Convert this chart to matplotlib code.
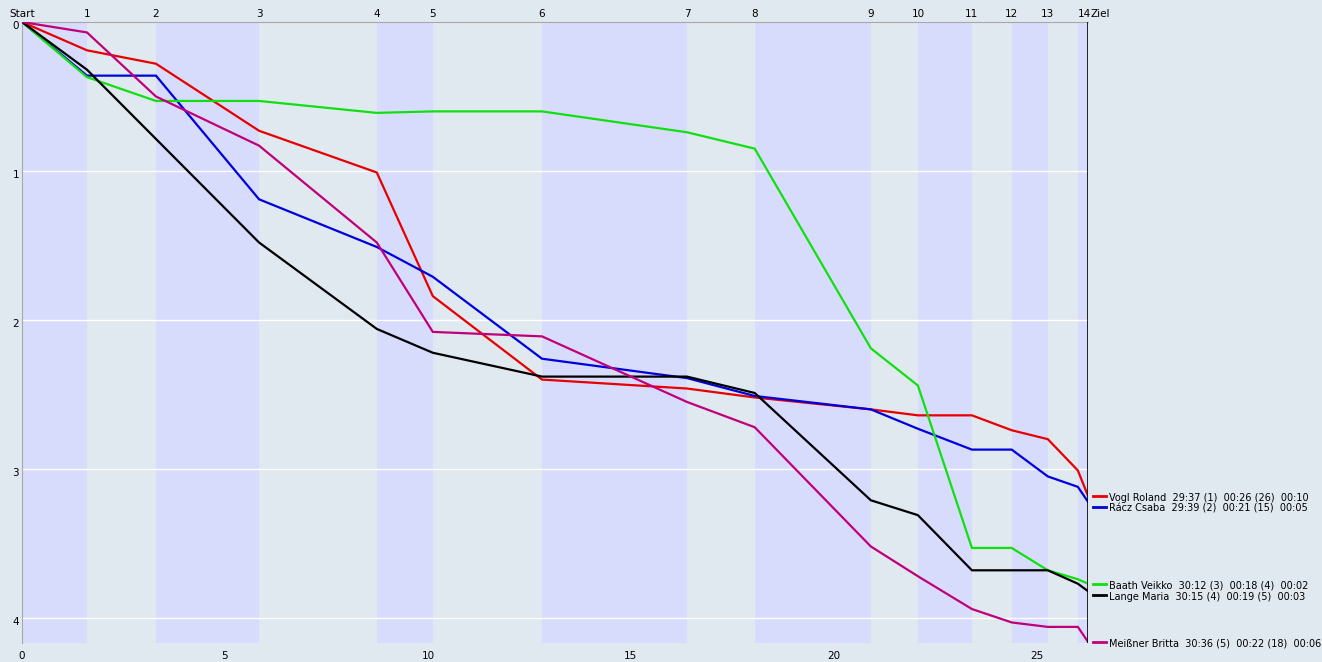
import numpy as np
import matplotlib
matplotlib.use("Agg")
import matplotlib.pyplot as plt
import matplotlib.transforms as mtransforms

# control positions (minutes) and labels
controls = ["Start", "1", "2", "3", "4", "5", "6", "7", "8", "9", "10", "11", "12", "13", "14", "Ziel"]
control_x = [0, 1.60, 3.30, 5.84, 8.74, 10.12, 12.81, 16.38, 18.05, 20.91,
             22.07, 23.40, 24.38, 25.27, 26.01, 26.26]

# time behind (minutes) at each control
vogl = [0, 0.19, 0.28, 0.73, 1.01, 1.84, 2.40, 2.46, 2.52, 2.60, 2.64, 2.64, 2.74, 2.80, 3.01, 3.18]
racz = [0, 0.36, 0.36, 1.19, 1.51, 1.71, 2.26, 2.39, 2.51, 2.60, 2.73, 2.87, 2.87, 3.05, 3.12, 3.22]
baath = [0, 0.37, 0.53, 0.53, 0.61, 0.60, 0.60, 0.74, 0.85, 2.19, 2.44, 3.53, 3.53, 3.68, 3.74, 3.77]
lange = [0, 0.32, 0.785, 1.48, 2.06, 2.22, 2.38, 2.38, 2.49, 3.21, 3.31, 3.68, 3.68, 3.68, 3.77, 3.82]
meissner = [0, 0.07, 0.50, 0.83, 1.48, 2.08, 2.11, 2.55, 2.72, 3.52, 3.72, 3.94, 4.03, 4.06, 4.06, 4.16]

runners = ["Vogl Roland", "Rácz Csaba", "Baath Veikko", "Lange Maria", "Meißner Britta"]
results = ["29:37 (1)  00:26 (26)  00:10",
           "29:39 (2)  00:21 (15)  00:05",
           "30:12 (3)  00:18 (4)  00:02",
           "30:15 (4)  00:19 (5)  00:03",
           "30:36 (5)  00:22 (18)  00:06"]
series = [vogl, racz, baath, lange, meissner]
colors = ["#e60000", "#0000dc", "#10e010", "#000000", "#c0007a"]

bg = "#e0e8f0"
band = "#d8dcfc"

fig = plt.figure(figsize=(13.22, 6.62), dpi=100, facecolor=bg)
ax = fig.add_axes([22 / 1322, 1 - 643 / 662, 1066 / 1322, 621 / 662])
ax.set_facecolor(bg)

# alternating legs
for i in range(len(control_x) - 1):
    if i % 2 == 0:
        ax.axvspan(control_x[i], control_x[i + 1], color=band, lw=0, zorder=0)

for yv in [1, 2, 3, 4]:
    ax.axhline(yv, color="white", lw=1, zorder=1)

for vals, c in zip(series, colors):
    ax.plot(control_x, vals, color=c, lw=1.6, zorder=3, solid_joinstyle="miter")

ax.set_xlim(0, control_x[-1])
ax.set_ylim(4.168, 0)
ax.axvline(control_x[-1], color="black", lw=1.2, zorder=4)

for s in ["right", "bottom"]:
    ax.spines[s].set_visible(False)
ax.spines["left"].set_color("#a8a8a8")
ax.spines["top"].set_color("#a8a8a8")

ax.set_xticks([0, 5, 10, 15, 20, 25])
ax.set_yticks([0, 1, 2, 3, 4])
ax.tick_params(length=0, labelsize=7.5)
ax.tick_params(axis="x", pad=6)
ax.tick_params(axis="y", pad=2)
shift = mtransforms.ScaledTranslation(0, -2 / 72, fig.dpi_scale_trans)
for lab in ax.get_yticklabels():
    lab.set_transform(lab.get_transform() + shift)

# control labels on top
trans_top = mtransforms.blended_transform_factory(ax.transData, ax.transAxes)
for name, x in zip(controls, control_x):
    ha = "center"
    dx = 0
    if name == "14":
        ha = "left"
    if name == "Ziel":
        ha = "left"
        dx = 0.06
    ax.text(x + dx, 1.013, name, transform=trans_top, ha=ha, va="center",
            fontsize=7.5, clip_on=False)

# right side labels, pushed apart so they don't overlap
ends = [v[-1] for v in series]
order = np.argsort(ends)
gap = 0.074
label_y = {}
prev = -10
for idx in order:
    y = max(ends[idx], prev + gap)
    label_y[idx] = y
    prev = y

trans_r = mtransforms.blended_transform_factory(ax.transAxes, ax.transData)
for i, (name, res, c) in enumerate(zip(runners, results, colors)):
    y = label_y[i]
    ax.plot([1.0047, 1.0169], [y, y], color=c, lw=2, transform=trans_r, clip_on=False)
    ax.text(1.0197, y + 0.012, name + "  " + res, transform=trans_r, ha="left", va="center",
            fontsize=7, clip_on=False)

fig.savefig("out.png", dpi=100, facecolor=bg)
